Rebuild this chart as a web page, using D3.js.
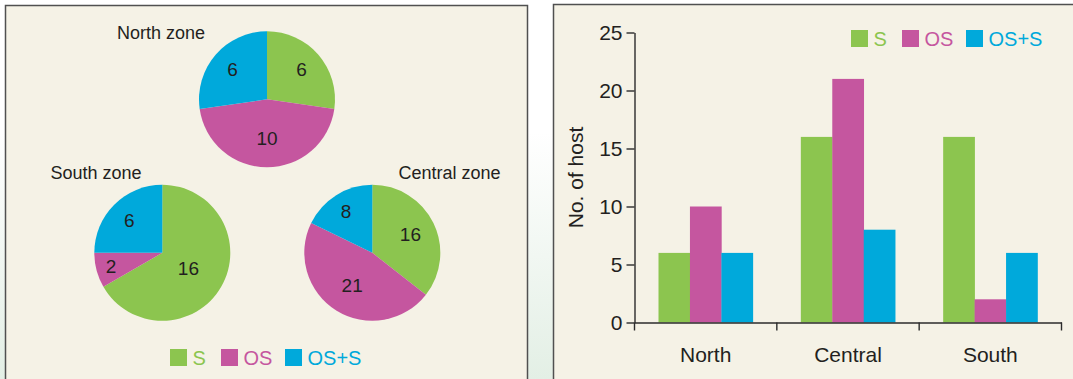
<!DOCTYPE html>
<html>
<head>
<meta charset="utf-8">
<script src="https://cdn.jsdelivr.net/npm/d3@7"></script>
<style>
  html, body { margin: 0; padding: 0; }
  body { width: 1073px; height: 379px; overflow: hidden; }
  svg { display: block; font-family: "Liberation Sans", Arial, Helvetica, sans-serif; }
</style>
</head>
<body>
<svg id="chart" width="1073" height="379"></svg>
<script>
// Host counts per zone for each infection type
const zones = ["North", "Central", "South"];
const series = ["S", "OS", "OS+S"];
const sValues = [6, 16, 16];
const osValues = [10, 21, 2];
const ossValues = [6, 8, 6];
const yTicks = [0, 5, 10, 15, 20, 25];
const pieTitles = ["North zone", "Central zone", "South zone"];

const colors = { "S": "#8cc54f", "OS": "#c5569f", "OS+S": "#00a9db" };
const textColor = "#231f20";
const panelFill = "#f5f2e6";
const panelStroke = "#505050";

const rows = zones.map((z, i) => ({ zone: z, S: sValues[i], OS: osValues[i], "OS+S": ossValues[i] }));

const svg = d3.select("#chart");

// page background: white fading to a pale green toward the bottom
const defs = svg.append("defs");
const grad = defs.append("linearGradient").attr("id", "pageBg")
  .attr("x1", 0).attr("y1", 0).attr("x2", 0).attr("y2", 1);
grad.append("stop").attr("offset", "0%").attr("stop-color", "#ffffff");
grad.append("stop").attr("offset", "35%").attr("stop-color", "#ffffff");
grad.append("stop").attr("offset", "100%").attr("stop-color", "#e3efe5");
svg.append("rect").attr("width", 1073).attr("height", 379).attr("fill", "url(#pageBg)");

// panels
svg.append("rect").attr("x", 5.5).attr("y", 5.5).attr("width", 522).attr("height", 400)
  .attr("fill", panelFill).attr("stroke", panelStroke).attr("stroke-width", 1.5);
svg.append("rect").attr("x", 553.5).attr("y", 4.5).attr("width", 540).attr("height", 400)
  .attr("fill", panelFill).attr("stroke", panelStroke).attr("stroke-width", 1.5);

/* ---------- Left panel: one pie per zone ---------- */
const pieR = 68;
const pieSpecs = [
  { zone: "North", cx: 267, cy: 99.3, title: pieTitles[0], tx: 117, ty: 38.5 },
  { zone: "Central", cx: 372.3, cy: 252.8, title: pieTitles[1], tx: 398.5, ty: 179 },
  { zone: "South", cx: 162.3, cy: 252.8, title: pieTitles[2], tx: 50.5, ty: 179 }
];

const pie = d3.pie().sort(null).value(d => d.value);
const arc = d3.arc().innerRadius(0).outerRadius(pieR);

pieSpecs.forEach(spec => {
  const row = rows.find(r => r.zone === spec.zone);
  const slices = pie(series.map(k => ({ key: k, value: row[k] })));
  const g = svg.append("g").attr("transform", `translate(${spec.cx},${spec.cy})`);

  g.selectAll("path").data(slices).join("path")
    .attr("d", arc)
    .attr("fill", d => colors[d.data.key]);

  // wider slices keep their label closer to the centre
  g.selectAll("text").data(slices).join("text")
    .attr("transform", d => {
      const frac = (d.endAngle - d.startAngle) / (2 * Math.PI);
      const mid = (d.startAngle + d.endAngle) / 2;
      const dist = pieR * (0.83 - 0.58 * frac);
      return `translate(${dist * Math.sin(mid)},${-dist * Math.cos(mid)})`;
    })
    .attr("text-anchor", "middle")
    .attr("dy", "0.36em")
    .attr("font-size", 19)
    .attr("fill", textColor)
    .text(d => d.data.value);

  svg.append("text")
    .attr("x", spec.tx).attr("y", spec.ty)
    .attr("font-size", 18)
    .attr("fill", textColor)
    .text(spec.title);
});

// legend builder shared by both panels
function legend(x0, y0) {
  const offsets = [0, 51, 115];
  const lg = svg.append("g").attr("transform", `translate(${x0},${y0})`);
  series.forEach((k, i) => {
    lg.append("rect").attr("x", offsets[i]).attr("y", 0)
      .attr("width", 17).attr("height", 17).attr("fill", colors[k]);
    lg.append("text").attr("x", offsets[i] + 22.5).attr("y", 16)
      .attr("font-size", 20).attr("fill", colors[k]).text(k);
  });
}
legend(170, 349);

/* ---------- Right panel: grouped bars ---------- */
const x0 = d3.scaleBand().domain(zones).range([634.5, 1061.5]).padding(0);
const x1 = d3.scaleBand().domain(series).range([24, x0.bandwidth() - 24]).padding(0);
const y = d3.scaleLinear().domain([0, 25]).range([322.5, 32.5]);

const bars = svg.append("g");
bars.selectAll("g").data(rows).join("g")
  .attr("transform", d => `translate(${x0(d.zone)},0)`)
  .selectAll("rect")
  .data(d => series.map(k => ({ key: k, value: d[k] })))
  .join("rect")
  .attr("x", d => x1(d.key))
  .attr("width", x1.bandwidth() + 0.3)
  .attr("y", d => y(d.value))
  .attr("height", d => y(0) - y(d.value))
  .attr("fill", d => colors[d.key]);

// y axis
const yAxis = svg.append("g").attr("transform", "translate(634.5,0)")
  .call(d3.axisLeft(y).tickValues(yTicks).tickSize(8).tickSizeOuter(0).tickPadding(4));
yAxis.selectAll("text").attr("font-size", 21).attr("fill", textColor)
  .attr("font-family", "Liberation Sans, Arial, sans-serif");

// x axis: labels at band centres, tick marks at band boundaries
const xAxis = svg.append("g").attr("transform", "translate(0,322.5)")
  .call(d3.axisBottom(x0).tickSize(0).tickSizeOuter(0).tickPadding(25));
xAxis.selectAll("text").attr("font-size", 21).attr("fill", textColor)
  .attr("font-family", "Liberation Sans, Arial, sans-serif");
const bounds = zones.map(z => x0(z)).concat([x0.range()[1]]);
xAxis.selectAll("line.bound").data(bounds).join("line").attr("class", "bound")
  .attr("x1", d => d).attr("x2", d => d).attr("y1", 0).attr("y2", 8);

svg.selectAll(".domain, .tick line, line.bound")
  .attr("stroke", "#2b2b2b").attr("stroke-width", 1.4);

// y axis title
svg.append("text")
  .attr("transform", "translate(583,177.5) rotate(-90)")
  .attr("text-anchor", "middle")
  .attr("font-size", 21)
  .attr("fill", textColor)
  .text("No. of host");

legend(851, 30);
</script>
</body>
</html>
